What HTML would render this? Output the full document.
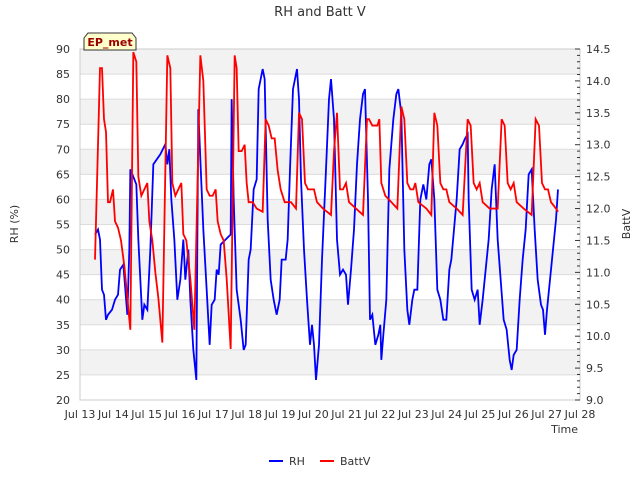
<!DOCTYPE html>
<html><head><meta charset="utf-8"><style>
body{margin:0;background:#fff;font-family:"Liberation Sans","DejaVu Sans",sans-serif;}
svg text{font-family:"DejaVu Sans","Liberation Sans",sans-serif;}
</style></head><body>
<svg id="chart" width="640" height="480" xmlns="http://www.w3.org/2000/svg">
<text x="320" y="16" text-anchor="middle" font-size="13" fill="#333">RH and Batt V</text>
<g id="bands"></g><g id="grid"></g>
<rect x="80" y="49" width="500" height="351" fill="none" stroke="#ccc"/>
<g id="series"></g><g id="axes" font-size="11" fill="#333"></g>
<text transform="translate(18,224) rotate(-90)" text-anchor="middle" font-size="11" fill="#333">RH (%)</text>
<text transform="translate(630,224) rotate(-90)" text-anchor="middle" font-size="11" fill="#333">BattV</text>
<text x="578" y="433" text-anchor="end" font-size="11" fill="#333">Time</text>
<g>
<path d="M84,50 L84,38 L88,33 L132,33 L136,38 L136,50 Z" fill="#ffffcc" stroke="#333"/>
<text x="110" y="46" text-anchor="middle" font-size="11" font-weight="bold" fill="#990000">EP_met</text></g>
<g font-size="11" fill="#333">
<line x1="269" y1="461" x2="283" y2="461" stroke="#0000ff" stroke-width="2"/><text x="289" y="465">RH</text>
<line x1="320" y1="461" x2="334" y2="461" stroke="#ff0000" stroke-width="2"/><text x="340" y="465">BattV</text></g>
</svg>
<script>
const xTickLabels=["Jul 13","Jul 14","Jul 15","Jul 16","Jul 17","Jul 18","Jul 19","Jul 20","Jul 21","Jul 22","Jul 23","Jul 24","Jul 25","Jul 26","Jul 27","Jul 28"];
const leftTicks=[20,25,30,35,40,45,50,55,60,65,70,75,80,85,90];
const rightTicks=[9.0,9.5,10.0,10.5,11.0,11.5,12.0,12.5,13.0,13.5,14.0,14.5];
const rhTime=[0.45,0.54,0.60,0.66,0.72,0.78,0.84,0.96,1.05,1.14,1.20,1.30,1.36,1.42,1.48,1.51,1.57,1.63,1.69,1.75,1.87,1.93,2.02,2.11,2.20,2.41,2.56,2.62,2.68,2.74,2.83,2.92,3.01,3.10,3.16,3.25,3.31,3.40,3.49,3.55,3.61,3.70,3.80,3.89,3.95,4.04,4.10,4.16,4.22,4.37,4.52,4.55,4.61,4.70,4.82,4.91,4.97,5.06,5.12,5.21,5.30,5.36,5.48,5.54,5.63,5.72,5.81,5.90,5.99,6.05,6.17,6.23,6.30,6.39,6.51,6.57,6.63,6.72,6.81,6.90,6.96,7.02,7.08,7.17,7.26,7.38,7.47,7.53,7.62,7.71,7.80,7.89,7.98,8.04,8.13,8.22,8.31,8.40,8.49,8.55,8.64,8.70,8.77,8.86,8.95,9.01,9.04,9.10,9.19,9.28,9.40,9.49,9.55,9.64,9.73,9.82,9.88,9.97,10.03,10.12,10.21,10.30,10.39,10.48,10.54,10.63,10.72,10.81,10.90,10.99,11.08,11.14,11.30,11.39,11.48,11.54,11.63,11.66,11.75,11.84,11.93,11.99,12.08,12.17,12.26,12.35,12.44,12.53,12.62,12.71,12.80,12.89,12.95,13.01,13.10,13.19,13.28,13.37,13.46,13.55,13.64,13.73,13.83,13.89,13.95,14.01,14.10,14.19,14.28,14.34];
const rhVal=[53,54,52,42,41,36,37,38,40,41,46,47,42,37,50,66,65,64,63,52,36,39,38,50,67,69,71,67,70,60,52,40,44,52,44,50,40,30,24,78,68,54,42,31,39,40,46,45,51,52,53,80,60,42,36,30,31,48,50,62,64,82,86,84,56,44,40,37,40,48,48,52,66,82,86,80,64,50,40,31,35,31,24,31,48,66,80,84,76,52,45,46,45,39,46,54,67,76,81,82,60,36,37,31,33,35,28,33,40,66,76,81,82,77,50,38,35,40,42,42,60,63,60,67,68,60,42,40,36,36,46,48,60,70,71,72,73,60,42,40,42,35,40,46,52,62,67,52,44,36,34,28,26,29,30,40,48,54,65,66,54,44,39,38,33,38,44,50,56,62];
const battTime=[0.45,0.60,0.66,0.72,0.78,0.84,0.90,0.99,1.05,1.14,1.23,1.33,1.42,1.51,1.60,1.69,1.75,1.84,1.93,2.02,2.08,2.17,2.26,2.35,2.47,2.62,2.71,2.77,2.86,2.95,3.04,3.10,3.19,3.31,3.43,3.61,3.70,3.80,3.89,3.98,4.07,4.13,4.22,4.31,4.40,4.52,4.64,4.70,4.76,4.85,4.94,5.00,5.06,5.18,5.30,5.48,5.57,5.66,5.75,5.84,5.93,6.02,6.14,6.33,6.48,6.57,6.66,6.75,6.84,6.93,7.02,7.11,7.29,7.53,7.62,7.71,7.80,7.89,7.98,8.07,8.28,8.49,8.61,8.67,8.77,8.86,8.92,8.98,9.04,9.16,9.34,9.52,9.64,9.73,9.82,9.91,10.00,10.06,10.15,10.39,10.54,10.63,10.72,10.81,10.90,10.99,11.08,11.30,11.48,11.63,11.72,11.81,11.90,11.99,12.08,12.29,12.53,12.65,12.74,12.83,12.92,13.01,13.10,13.31,13.55,13.67,13.77,13.86,13.95,14.04,14.13,14.28,14.34];
const battVal=[11.2,14.2,14.2,13.4,13.2,12.1,12.1,12.3,11.8,11.7,11.5,11.1,10.6,10.1,14.45,14.3,12.5,12.2,12.3,12.4,11.8,11.5,11.0,10.6,9.9,14.4,14.2,12.4,12.2,12.3,12.4,11.6,11.5,10.9,10.1,14.4,14.0,12.3,12.2,12.2,12.3,11.8,11.6,11.5,10.9,9.8,14.4,14.2,12.9,12.9,13.0,12.4,12.1,12.1,12.0,11.95,13.4,13.3,13.1,13.1,12.6,12.3,12.1,12.1,12.0,13.5,13.4,12.4,12.3,12.3,12.3,12.1,12.0,11.9,12.9,13.5,12.3,12.3,12.4,12.1,12.0,11.9,13.4,13.4,13.3,13.3,13.3,13.4,12.4,12.2,12.1,12.0,13.6,13.4,12.4,12.3,12.3,12.4,12.1,12.0,11.9,13.5,13.3,12.4,12.3,12.3,12.1,12.0,11.9,13.4,13.3,12.4,12.3,12.4,12.1,12.0,12.0,13.4,13.3,12.4,12.3,12.4,12.1,12.0,11.9,13.4,13.3,12.4,12.3,12.3,12.1,12.0,11.95];
const X0=80,X1=580,Y0=49,Y1=400;
const xs=d=>X0+d*(X1-X0)/15;
const yl=v=>Y1-(v-20)*(Y1-Y0)/70;
const yr=v=>Y1-(v-9)*(Y1-Y0)/5.5;
const NS="http://www.w3.org/2000/svg";
function mk(tag,attrs,parent){const e=document.createElementNS(NS,tag);for(const k in attrs)e.setAttribute(k,attrs[k]);document.getElementById(parent).appendChild(e);return e;}
for(let v=20;v<90;v+=10){const b=mk('rect',{x:X0,y:yl(v+10),width:X1-X0,height:yl(v+5)-yl(v+10),fill:'#f2f2f2'},'bands');

}
leftTicks.forEach(v=>{const g=mk('line',{x1:X0,x2:X1,y1:yl(v),y2:yl(v),stroke:'#dcdcdc'},'grid');


const t=mk('text',{x:X0-10,y:yl(v)+4,'text-anchor':'end'},'axes');t.textContent=v;

});
rightTicks.forEach(v=>{const t=mk('text',{x:X1+6,y:yr(v)+4},'axes');t.textContent=v.toFixed(1);

});
for(let v=9;v<=14.501;v+=0.1){const major=Math.abs(v*2-Math.round(v*2))<0.01;mk('line',{x1:X1-(major?5:3),x2:X1,y1:yr(v),y2:yr(v),stroke:'#333'},'axes');}
xTickLabels.forEach((l,i)=>{const t=mk('text',{x:xs(i),y:418,'text-anchor':'middle'},'axes');t.textContent=l;

});
const rh=mk('polyline',{points:rhTime.map((t,i)=>xs(t)+','+yl(rhVal[i])).join(' '),fill:'none',stroke:'#0000ff','stroke-width':1.8},'series');


const bv=mk('polyline',{points:battTime.map((t,i)=>xs(t)+','+yr(battVal[i])).join(' '),fill:'none',stroke:'#ff0000','stroke-width':1.8},'series');


</script>
</body></html>
